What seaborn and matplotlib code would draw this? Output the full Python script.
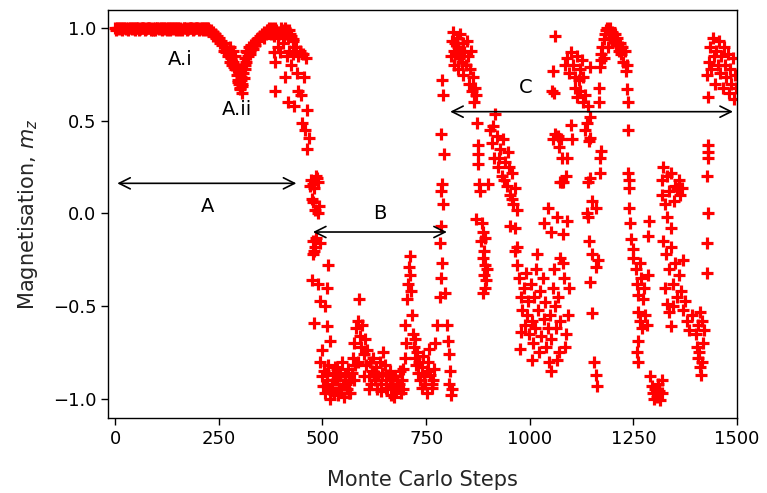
import matplotlib
matplotlib.use("Agg")
import matplotlib.pyplot as plt
import seaborn as sns
import pandas as pd

# ---- data (Monte Carlo step, m_z) ----
steps_a = [0, 5, 10, 15, 20, 25, 30, 35, 40, 45, 50, 55, 60, 65, 70, 75, 80, 85, 90, 95,
           100, 105, 110, 115, 120, 125, 130, 135, 140, 145, 150, 155, 160, 165, 170, 175,
           180, 185, 190, 195, 200, 205, 210, 215, 220, 225,
           230, 235, 240, 245, 250, 255, 260, 265, 270, 275, 280, 283, 285, 288, 290, 293,
           296, 299, 300, 302, 304, 305, 307, 308, 310, 313, 315, 316, 320, 322, 325, 330,
           335, 340, 345, 350, 355, 360, 365, 370, 375, 380, 385, 390, 395, 400, 405, 410,
           415, 420, 425, 430, 278]
mz_a = [1.0, 1.0, 0.995, 1.0, 1.0, 0.995, 1.0, 1.0, 0.995, 1.0, 1.0, 1.0, 0.995, 1.0, 1.0,
        0.995, 1.0, 1.0, 0.99, 1.0, 1.0, 0.995, 1.0, 1.0, 0.995, 0.99, 1.0, 1.0, 0.995, 1.0,
        1.0, 0.99, 0.995, 1.0, 1.0, 0.995, 1.0, 1.0, 0.995, 1.0, 1.0, 0.995, 1.0, 1.0, 0.99, 1.0,
        0.99, 0.98, 0.97, 0.96, 0.95, 0.93, 0.92, 0.90, 0.88, 0.86, 0.84, 0.88, 0.82, 0.85,
        0.78, 0.75, 0.72, 0.70, 0.78, 0.67, 0.74, 0.65, 0.69, 0.80, 0.73, 0.78, 0.88, 0.82,
        0.85, 0.90, 0.88, 0.90, 0.92, 0.93, 0.95, 0.96, 0.97, 0.98, 0.99, 1.0, 0.97, 0.99,
        1.0, 0.98, 0.97, 1.0, 0.98, 1.0, 0.97, 0.99, 0.96, 0.93, 0.90]

# extra samples filling the dense plateau and the A.ii dip
steps_a1 = [2, 7, 12, 17, 22, 27, 32, 37, 42, 47, 52, 57, 62, 67, 72, 77, 82, 87, 92, 97,
            102, 107, 112, 117, 122, 127, 132, 137, 142, 147, 152, 157, 162, 167, 172, 177,
            182, 187, 192, 197, 202, 207, 212, 217, 222, 227,
            232, 237, 242, 247, 252, 257, 262, 267, 272, 277, 282, 287, 291, 295, 298, 301,
            303, 306, 309, 312, 314, 318, 324, 328, 333, 338, 343, 348, 353, 358, 363, 368,
            372, 378, 383, 388, 393, 398, 402, 408, 412, 418, 422, 428]
mz_a1 = [0.99, 1.0, 1.0, 0.99, 1.0, 1.0, 0.99, 1.0, 1.0, 0.99, 1.0, 0.99, 1.0, 1.0, 0.99,
         1.0, 1.0, 0.99, 1.0, 0.99, 1.0, 1.0, 0.99, 1.0, 1.0, 1.0, 0.99, 1.0, 1.0, 0.99, 1.0,
         1.0, 0.99, 1.0, 0.99, 1.0, 1.0, 0.99, 1.0, 1.0, 0.99, 1.0, 0.99, 1.0, 1.0, 0.99,
         0.98, 0.96, 0.95, 0.94, 0.92, 0.91, 0.88, 0.87, 0.85, 0.82, 0.80, 0.79, 0.80, 0.71,
         0.76, 0.68, 0.72, 0.70, 0.76, 0.80, 0.84, 0.87, 0.86, 0.91, 0.89, 0.91, 0.94, 0.93,
         0.96, 0.95, 0.97, 0.99, 0.98, 1.0, 0.96, 0.99, 0.95, 0.98, 0.99, 0.96, 0.99, 0.95,
         0.97, 0.94]

steps_a2 = [382, 386, 386, 392, 398, 404, 410, 415, 418, 420, 425, 428, 432, 435, 438, 440,
            442, 445, 448, 450, 452, 455, 458, 460, 462, 462, 468, 472, 476, 480, 485, 490,
            478, 483, 488, 474, 478, 481, 476, 484, 492, 513, 475, 490, 510, 495, 505, 480,
            510, 518, 500, 470, 487, 479, 493]
mz_a2 = [0.87, 0.82, 0.66, 0.90, 0.87, 0.92, 0.74, 0.85, 0.60, 0.88, 0.80, 0.86, 0.58, 0.90,
         0.76, 0.66, 0.85, 0.88, 0.64, 0.49, 0.86, 0.74, 0.45, 0.84, 0.56, 0.35, 0.41, 0.18,
         0.16, 0.14, 0.20, 0.17, 0.06, 0.02, 0.0, 0.08, -0.15, -0.18, -0.22, -0.13, 0.04,
         -0.28, -0.36, -0.38, -0.40, -0.47, -0.50, -0.59, -0.61, -0.69, -0.74, 0.15, 0.19,
         -0.20, -0.16]

steps_b = [495, 498, 501, 504, 507, 510, 513, 516, 519, 522, 525, 528, 531, 534, 537, 540,
           543, 546, 549, 552, 555, 558, 561, 564, 567, 570, 573, 576, 579, 582, 585, 588,
           590, 593, 596, 599, 602, 605, 608, 611, 614, 617, 620, 623, 626, 629, 632, 635,
           638, 641, 644, 647, 650, 653, 656, 659, 662, 665, 668, 671, 674, 677, 680, 683,
           686, 689, 692, 695, 698, 700, 702, 704, 706, 708, 710, 712, 714, 716, 718, 720,
           722, 724, 726, 728, 730, 733, 736, 739, 742, 745, 748, 751, 754, 757, 760, 763,
           766, 769, 772, 775,
           505, 512, 520, 527, 535, 545, 556, 565, 575, 585, 600, 612, 625, 640, 652, 662,
           672, 685, 695, 740, 752, 765]
mz_b = [-0.80, -0.88, -0.93, -0.85, -0.97, -0.90, -0.82, -0.95, -1.0, -0.92, -0.87, -0.97,
        -0.83, -0.90, -0.98, -0.94, -0.86, -0.80, -0.92, -0.99, -0.88, -0.95, -0.84, -0.91,
        -0.97, -0.86, -0.78, -0.70, -0.82, -0.62, -0.58, -0.46, -0.66, -0.72, -0.60, -0.76,
        -0.68, -0.82, -0.74, -0.88, -0.80, -0.92, -0.85, -0.78, -0.90, -0.83, -0.95, -0.88,
        -0.80, -0.92, -0.86, -0.75, -0.82, -0.90, -0.95, -0.87, -0.92, -0.98, -0.89, -0.94,
        -0.88, -0.96, -0.90, -0.93, -0.85, -0.97, -0.90, -0.84, -0.78, -0.60, -0.70, -0.46,
        -0.38, -0.29, -0.23, -0.33, -0.42, -0.55, -0.65, -0.72, -0.78, -0.68, -0.82, -0.75,
        -0.86, -0.80, -0.90, -0.83, -0.77, -0.88, -0.92, -0.85, -0.80, -0.73, -0.87, -0.94,
        -0.90, -0.84, -0.70, -0.60,
        -0.93, -0.86, -0.96, -0.90, -0.84, -0.95, -0.92, -0.97, -0.90, -0.80, -0.88, -0.95,
        -0.86, -0.96, -0.94, -0.85, -0.99, -0.92, -0.95, -0.94, -0.97, -0.92]

steps_t = [783, 786, 789, 784, 787, 790, 785, 788, 792, 786, 790, 788, 795, 800, 803, 805,
           808, 806, 810, 812]
mz_t = [-0.45, -0.35, -0.27, -0.16, -0.07, 0.05, 0.12, 0.16, 0.32, 0.43, 0.64, 0.72, -0.43,
        -0.60, -0.69, -0.76, -0.85, -0.92, -0.98, -0.95]

steps_c1 = [810, 812, 814, 816, 818, 820, 822, 824, 826, 828, 830, 832, 834, 836, 838, 840,
            842, 845, 848, 850, 853, 856, 858, 861, 864, 866, 868, 870,
            872, 874, 876, 875, 878, 880, 885, 888, 883, 890, 887, 892, 889, 894, 891, 886,
            896, 893, 870, 900, 904, 909, 913, 916, 920, 924, 928, 932, 936, 940, 944, 948,
            952, 956, 960, 964, 968, 912, 925, 938, 950, 958, 952, 965, 968]
mz_c1 = [0.85, 0.93, 0.98, 0.88, 0.80, 0.92, 0.86, 0.95, 0.78, 0.90, 0.84, 0.97, 0.88, 0.82,
         0.92, 0.75, 0.87, 0.80, 0.93, 0.85, 0.70, 0.78, 0.88, 0.66, 0.74, 0.60, 0.68, 0.64,
         0.49, 0.37, 0.32, 0.27, 0.16, 0.12, -0.05, -0.10, -0.15, -0.20, -0.24, -0.28, -0.33,
         -0.36, -0.40, -0.43, -0.30, -0.13, -0.03, 0.16, 0.45, 0.38, 0.30, 0.54, 0.42, 0.25,
         0.35, 0.20, 0.40, 0.28, 0.15, 0.33, 0.10, 0.22, 0.05, 0.14, 0.02, 0.47, 0.30, 0.18,
         0.25, 0.08, -0.07, -0.08, -0.18]

steps_c2 = [965, 970, 975, 978, 982, 985, 988, 990, 993, 996, 999, 1002, 1005, 1008, 1010,
            1013, 1016, 1019, 1022, 1025, 1028, 1031, 1034, 1037, 1040, 1043, 1046, 1049,
            1052, 1055, 1058, 1061, 1064, 1067, 1070, 1073, 1017, 1073, 1080, 1082, 1085,
            1066, 1050, 1005, 977, 980, 1035, 1044, 1050, 1065, 1080, 1090, 1095, 1092, 1088]
mz_c2 = [-0.20, -0.28, -0.35, -0.45, -0.52, -0.40, -0.60, -0.32, -0.55, -0.47, -0.65, -0.38,
         -0.58, -0.70, -0.45, -0.62, -0.30, -0.52, -0.75, -0.42, -0.66, -0.35, -0.57, -0.48,
         -0.72, -0.62, -0.80, -0.55, -0.68, -0.40, -0.30, -0.50, -0.62, -0.45, -0.75, -0.58,
         -0.22, -0.24, -0.27, -0.35, -0.72, -0.79, -0.85, -0.79, -0.73, -0.64, -0.05, 0.03,
         -0.10, -0.02, -0.11, -0.04, -0.40, -0.55, -0.65]

steps_c3 = [1056, 1062, 1070, 1078, 1072, 1080, 1061, 1055, 1053, 1058, 1085, 1090, 1095,
            1100, 1105, 1110, 1115, 1120, 1125, 1128, 1108, 1113, 1118, 1122, 1128, 1134,
            1140, 1145, 1170, 1172, 1168, 1168, 1145, 1100, 1132, 1138, 1075, 1068, 1142,
            1090, 1170, 1172, 1078, 1088, 1140, 1146, 1170, 1101, 1145]
mz_c3 = [0.40, 0.43, 0.36, 0.30, 0.17, 0.17, 0.96, 0.77, 0.66, 0.65, 0.80, 0.84, 0.76, 0.87,
         0.80, 0.74, 0.85, 0.78, 0.83, 0.74, 0.68, 0.63, 0.72, 0.66, 0.60, 0.64, 0.58, 0.79,
         0.79, 0.83, 0.68, 0.60, 0.52, 0.48, 0.45, 0.49, 0.40, 0.42, 0.39, 0.30, 0.30, 0.34,
         0.17, 0.20, 0.17, 0.19, 0.22, 0.40, 0.41]

steps_c4 = [1140, 1150, 1160, 1142, 1150, 1160, 1145, 1150, 1155, 1160, 1162, 1138, 1165,
            1172, 1175, 1178, 1181, 1184, 1187, 1190, 1193, 1196, 1199, 1202, 1205, 1208,
            1211, 1214, 1217, 1220, 1223, 1226, 1229, 1232, 1235, 1180, 1188,
            1235, 1236, 1237, 1238, 1239, 1240]
mz_c4 = [-0.02, 0.07, 0.03, -0.15, -0.22, -0.29, -0.37, -0.54, -0.80, -0.87, -0.93, 0.0,
         -0.25, 0.86, 0.90, 0.94, 0.97, 0.99, 1.0, 0.97, 1.0, 0.95, 0.98, 0.93, 0.97, 0.91,
         0.95, 0.88, 0.92, 0.86, 0.90, 0.82, 0.88, 0.77, 0.80, 0.84, 0.90,
         0.67, 0.60, 0.45, 0.22, 0.14, 0.18]

steps_c5 = [1240, 1242, 1245, 1248, 1250, 1255, 1258, 1262, 1265, 1268, 1272, 1275, 1260,
            1265, 1270, 1278, 1282, 1262, 1258, 1260, 1285, 1288, 1285,
            1290, 1295, 1298, 1300, 1303, 1306, 1309, 1312, 1315, 1318, 1320]
mz_c5 = [0.03, -0.05, -0.14, -0.24, -0.19, -0.30, -0.38, -0.44, -0.27, -0.35, -0.46, -0.40,
         -0.53, -0.58, -0.62, -0.55, -0.60, -0.69, -0.75, -0.80, -0.33, -0.04, -0.12,
         -0.88, -0.93, -0.97, -1.0, -0.95, -0.99, -0.92, -0.96, -1.01, -0.90, -0.97]

steps_c6 = [1320, 1322, 1330, 1340, 1350, 1360, 1368, 1320, 1325, 1330, 1335, 1340, 1348,
            1355, 1362, 1322, 1328, 1335, 1340, 1345, 1350, 1355, 1360, 1365, 1370, 1375,
            1330, 1335, 1340, 1345, 1325, 1370, 1378, 1385, 1392, 1400, 1405, 1410, 1415,
            1420, 1403, 1406, 1410, 1413, 1416, 1408, 1418]
mz_c6 = [0.18, 0.25, 0.20, 0.22, 0.15, 0.18, 0.14, 0.10, 0.05, -0.02, 0.12, -0.08, 0.07,
         0.14, 0.10, -0.15, -0.22, -0.30, -0.18, -0.38, -0.27, -0.45, -0.33, -0.42, -0.25,
         -0.47, -0.49, -0.53, -0.61, -0.50, -0.40, -0.52, -0.58, -0.63, -0.55, -0.65, -0.60,
         -0.53, -0.58, -0.63, -0.72, -0.78, -0.83, -0.87, -0.80, -0.75, -0.70]

steps_c7 = [1427, 1430, 1432, 1435, 1438, 1441, 1444, 1447, 1450, 1453, 1456, 1459, 1462,
            1465, 1468, 1471, 1474, 1477, 1480, 1483, 1486, 1489, 1492, 1495, 1498,
            1430, 1431, 1430, 1428, 1430, 1428, 1427]
mz_c7 = [0.75, 0.63, 0.82, 0.90, 0.78, 0.95, 0.85, 0.70, 0.88, 0.80, 0.93, 0.76, 0.85,
         0.68, 0.90, 0.80, 0.74, 0.86, 0.65, 0.78, 0.70, 0.84, 0.62, 0.75, 0.68,
         0.37, 0.33, 0.30, 0.20, 0.0, -0.16, -0.32]

steps = (steps_a + steps_a1 + steps_a2 + steps_b + steps_t + steps_c1 + steps_c2
         + steps_c3 + steps_c4 + steps_c5 + steps_c6 + steps_c7)
mz = (mz_a + mz_a1 + mz_a2 + mz_b + mz_t + mz_c1 + mz_c2 + mz_c3 + mz_c4 + mz_c5
      + mz_c6 + mz_c7)

# annotation labels and spans (in data units)
region_labels = ["A", "B", "C"]
region_spans = [(5, 437, 0.163), (477, 800, -0.10), (808, 1490, 0.55)]
region_text_pos = [(222, 0.04), (639, 0.0), (991, 0.68)]
sub_labels = ["A.i", "A.ii"]
sub_text_pos = [(157, 0.83), (294, 0.56)]

df = pd.DataFrame({"Monte Carlo Steps": steps, "mz": mz})

sns.set_theme(style="ticks")
plt.rcParams["font.family"] = ["DejaVu Sans"]

fig = plt.figure(figsize=(7.67, 4.93), dpi=100)
ax = fig.add_axes([0.141, 0.152, 0.820, 0.828])

sns.scatterplot(data=df, x="Monte Carlo Steps", y="mz", marker="+", color="red",
                s=75, linewidth=2.3, ax=ax, legend=False)

for (x0, x1, y), lab, (tx, ty) in zip(region_spans, region_labels, region_text_pos):
    ax.annotate("", xy=(x0, y), xytext=(x1, y),
                arrowprops=dict(arrowstyle="<->", color="black", lw=1.2,
                                mutation_scale=20, shrinkA=0, shrinkB=0))
    ax.text(tx, ty, lab, ha="center", va="center", fontsize=14, color="black")
for lab, (tx, ty) in zip(sub_labels, sub_text_pos):
    ax.text(tx, ty, lab, ha="center", va="center", fontsize=14, color="black")

ax.set_xlim(-17, 1500)
ax.set_ylim(-1.105, 1.1)
ax.set_xticks([0, 250, 500, 750, 1000, 1250, 1500])
ax.set_yticks([-1.0, -0.5, 0.0, 0.5, 1.0])
ax.set_xlabel("Monte Carlo Steps", fontsize=15, labelpad=16)
ax.set_ylabel("Magnetisation, $m_z$", fontsize=15, labelpad=9)
ax.tick_params(axis="both", labelsize=13, direction="out", length=5, width=1.0,
               color="black", labelcolor="black")
for sp in ax.spines.values():
    sp.set_color("black")
    sp.set_linewidth(1.0)

fig.savefig("out.png", dpi=100, facecolor="white")
